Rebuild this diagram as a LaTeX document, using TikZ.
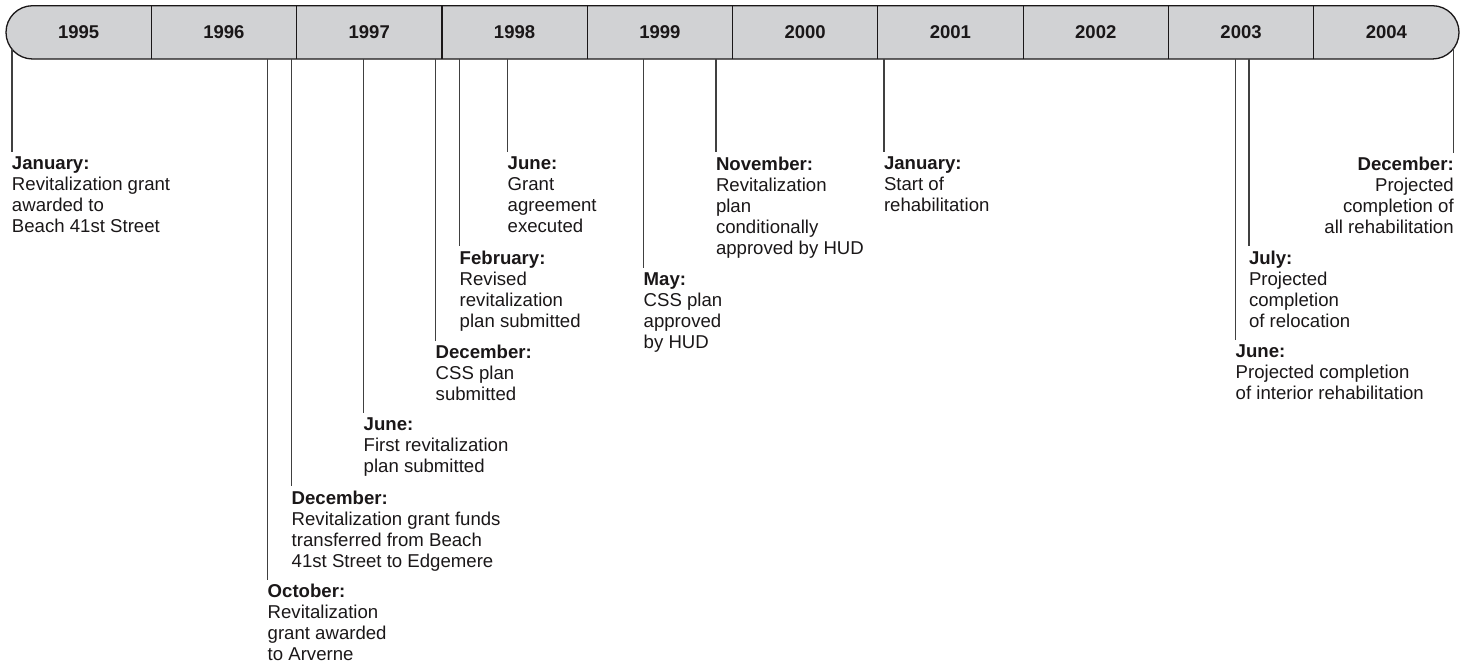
\documentclass[tikz,border=0pt]{standalone}
\usepackage{fontspec}
\setmainfont{Liberation Sans}
\definecolor{ink}{HTML}{1A1718}
\definecolor{barfill}{HTML}{D1D2D4}
\definecolor{rule}{HTML}{404040}
\begin{document}
\begin{tikzpicture}[x=1pt,y=-1pt,
  yearlbl/.style={font=\fontsize{18.5}{21}\selectfont\bfseries, text=ink, inner sep=0pt},
  event/.style={font=\fontsize{18.6}{21}\selectfont, text=ink, inner sep=0pt,
    outer xsep=0pt, outer ysep=5pt, align=left, anchor=north west},
  eventr/.style={event, align=right, anchor=north east},
  conn/.style={draw=rule, line width=1.4pt}]
\useasboundingbox (0,0) rectangle (1467,667);

% year bar
\def\barL{6}\def\barR{1459}\def\barT{5.7}\def\barB{59}\def\yw{145.3}
\path[fill=barfill, draw=ink, line width=1.3pt, rounded corners=26.6pt]
  (\barL,\barT) rectangle (\barR,\barB);
\foreach \k in {1,...,9}
  \draw[ink, line width=1.2pt] ({\barL+\k*\yw},\barT) -- ({\barL+\k*\yw},\barB);
\foreach \yr [count=\k from 0] in {1995,...,2004}
  \node[yearlbl] (y\yr) at ({\barL+(\k+0.5)*\yw},32.35) {\yr};

% points where the event lines leave the bar
\coordinate (t95jan) at (12,49.2);
\coordinate (t96oct) at (267.7,\barB);
\coordinate (t96dec) at (291.7,\barB);
\coordinate (t97jun) at (363.7,\barB);
\coordinate (t97dec) at (435.7,\barB);
\coordinate (t98feb) at (459.7,\barB);
\coordinate (t98jun) at (507.7,\barB);
\coordinate (t99may) at (643.7,\barB);
\coordinate (t99nov) at (716,\barB);
\coordinate (t01jan) at (884,\barB);
\coordinate (t03jun) at (1235.7,\barB);
\coordinate (t03jul) at (1249,\barB);
\coordinate (t04dec) at (1453.7,48.3);

% event texts
\node[event] (e95jan) at (12,152) {\textbf{January:}\\Revitalization grant\\awarded to\\Beach 41st Street};
\node[event] (e96oct) at (267.7,579.5) {\textbf{October:}\\Revitalization\\grant awarded\\to Arverne};
\node[event] (e96dec) at (291.7,486) {\textbf{December:}\\Revitalization grant funds\\transferred from Beach\\41st Street to Edgemere};
\node[event] (e97jun) at (363.7,413) {\textbf{June:}\\First revitalization\\plan submitted};
\node[event] (e97dec) at (435.7,340.5) {\textbf{December:}\\CSS plan\\submitted};
\node[event] (e98feb) at (459.7,246) {\textbf{February:}\\Revised\\revitalization\\plan submitted};
\node[event] (e98jun) at (507.7,152) {\textbf{June:}\\Grant\\agreement\\executed};
\node[event] (e99may) at (643.7,267.5) {\textbf{May:}\\CSS plan\\approved\\by HUD};
\node[event] (e99nov) at (716,152) {\textbf{November:}\\Revitalization\\plan\\conditionally\\approved by HUD};
\node[event] (e01jan) at (884,152) {\textbf{January:}\\Start of\\rehabilitation};
\node[event] (e03jun) at (1235.7,340) {\textbf{June:}\\Projected completion\\of interior rehabilitation};
\node[event] (e03jul) at (1249,246) {\textbf{July:}\\Projected\\completion\\of relocation};
\node[eventr] (e04dec) at (1453.7,152.5) {\textbf{December:}\\Projected\\completion of\\all rehabilitation};

% event lines
\foreach \e in {95jan,96oct,96dec,97jun,97dec,98feb,98jun,99may,99nov,01jan,03jun,03jul}
  \draw[conn] (t\e) -- (t\e |- e\e.north west);
\draw[conn] (t04dec) -- (t04dec |- e04dec.north east);
\end{tikzpicture}
\end{document}
